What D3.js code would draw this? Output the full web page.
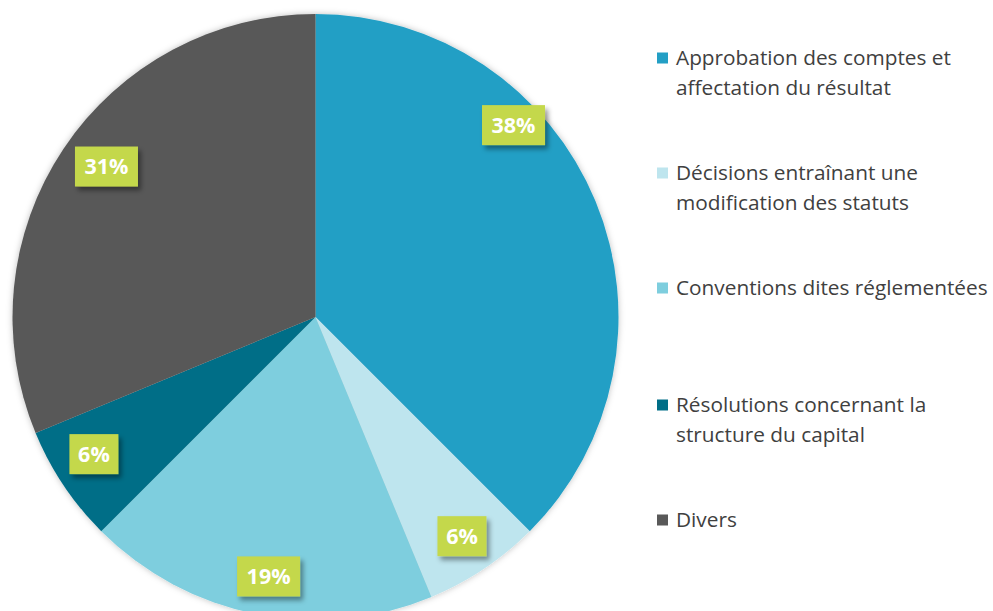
<!DOCTYPE html>
<html>
<head>
<meta charset="utf-8">
<script src="https://cdn.jsdelivr.net/npm/d3@7"></script>
<style>
  body { margin: 0; background: #fff; }
  svg { display: block; }
</style>
</head>
<body>
<svg id="chart" width="993" height="611"></svg>
<script>
const categories = [
  "Approbation des comptes et affectation du résultat",
  "Décisions entraînant une modification des statuts",
  "Conventions dites réglementées",
  "Résolutions concernant la structure du capital",
  "Divers"
];
// number of resolutions per category (shown as share of total)
const values = [6, 1, 3, 1, 5];
const legendLines = [
  ["Approbation des comptes et", "affectation du résultat"],
  ["Décisions entraînant une", "modification des statuts"],
  ["Conventions dites réglementées"],
  ["Résolutions concernant la", "structure du capital"],
  ["Divers"]
];
const colors = ["#239FC5", "#BEE5EE", "#7ECEDE", "#006E87", "#595959"];

// label placement tweaks (angle shift in degrees, radius fraction)
const labelShift = [-21.6, 0, -1, 2, 2];
const labelRadius = [0.91, 0.87, 0.87, 0.86, 0.85];

const svg = d3.select("#chart");
const cx = 315.5, cy = 317, radius = 303;

const defs = svg.append("defs");
const pieShadow = defs.append("filter").attr("id", "pieShadow")
  .attr("x", "-10%").attr("y", "-10%").attr("width", "120%").attr("height", "120%");
pieShadow.append("feDropShadow").attr("dx", 0).attr("dy", 0)
  .attr("stdDeviation", 3).attr("flood-color", "#000").attr("flood-opacity", 0.25);

const boxShadow = defs.append("filter").attr("id", "boxShadow")
  .attr("x", "-30%").attr("y", "-30%").attr("width", "160%").attr("height", "160%");
boxShadow.append("feDropShadow").attr("dx", 3).attr("dy", 4)
  .attr("stdDeviation", 2.5).attr("flood-color", "#000").attr("flood-opacity", 0.4);

const pie = d3.pie().sort(null).value(d => d);
const arcs = pie(values);
const arc = d3.arc().innerRadius(0).outerRadius(radius);

const g = svg.append("g").attr("transform", `translate(${cx},${cy})`);

g.append("g").attr("filter", "url(#pieShadow)")
  .selectAll("path")
  .data(arcs)
  .join("path")
  .attr("d", arc)
  .attr("fill", (d, i) => colors[i]);

const total = d3.sum(values);
const pct = d => Math.round(d.data / total * 100);

const labels = g.selectAll("g.label")
  .data(arcs)
  .join("g")
  .attr("class", "label")
  .attr("transform", (d, i) => {
    const a = (d.startAngle + d.endAngle) / 2 + labelShift[i] * Math.PI / 180;
    const r = radius * labelRadius[i];
    return `translate(${r * Math.sin(a)},${-r * Math.cos(a)})`;
  });

labels.append("rect")
  .attr("x", d => pct(d) >= 10 ? -31.5 : -24.5)
  .attr("y", -20)
  .attr("width", d => pct(d) >= 10 ? 63 : 49)
  .attr("height", 40)
  .attr("fill", "#C4D84B")
  .attr("filter", "url(#boxShadow)");

labels.append("text")
  .attr("text-anchor", "middle")
  .attr("dy", "0.36em")
  .attr("fill", "#fff")
  .attr("font-family", "'Open Sans', sans-serif")
  .attr("font-weight", "bold")
  .attr("font-size", "21.5px")
  .text(d => pct(d) + "%");

// legend
const legendY = [58, 173, 288, 405, 520];
const legend = svg.append("g").selectAll("g")
  .data(categories)
  .join("g")
  .attr("transform", (d, i) => `translate(657,${legendY[i]})`);

legend.append("rect")
  .attr("x", 0).attr("y", -5.5)
  .attr("width", 11).attr("height", 11)
  .attr("fill", (d, i) => colors[i]);

legend.append("text")
  .attr("x", 19)
  .attr("fill", "#404040")
  .attr("font-family", "'Open Sans', sans-serif")
  .attr("font-size", "20.8px")
  .selectAll("tspan")
  .data((d, i) => legendLines[i])
  .join("tspan")
  .attr("x", 19)
  .attr("y", (d, j) => j * 30)
  .attr("dy", "0.35em")
  .text(d => d);
</script>
</body>
</html>
